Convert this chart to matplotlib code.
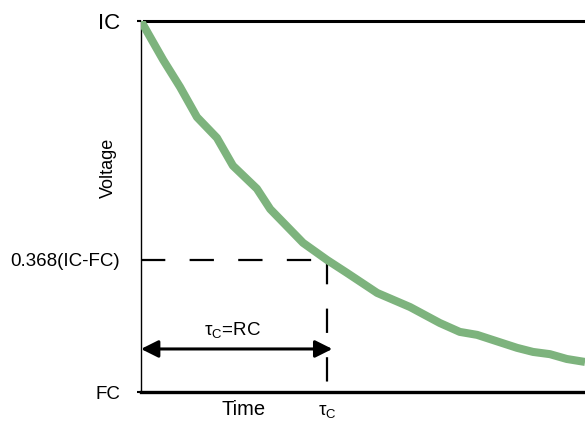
import matplotlib.pyplot as plt
import numpy as np

plt.rcParams['font.family'] = ['Liberation Sans', 'DejaVu Sans']
plt.rcParams['mathtext.fontset'] = 'custom'
plt.rcParams['mathtext.rm'] = 'Liberation Sans'
plt.rcParams['lines.scale_dashes'] = False

# normalised time (0..1) and voltage (FC=0, IC=1)
time = [0.0, 0.05, 0.088, 0.126, 0.171, 0.207, 0.261, 0.291, 0.365, 0.419,
        0.464, 0.532, 0.606, 0.673, 0.718, 0.757, 0.793, 0.847, 0.883,
        0.921, 0.959, 1.0]
voltage = [1.0, 0.895, 0.822, 0.741, 0.685, 0.610, 0.548, 0.493, 0.402, 0.356,
           0.321, 0.267, 0.229, 0.186, 0.162, 0.154, 0.140, 0.119, 0.108,
           0.102, 0.089, 0.081]
tau = 0.419
tau_level = 0.356
arrow_level = 0.116
ytick_pos = [1.0, tau_level, 0.0]
ytick_labels = ['IC', '0.368(IC-FC)', 'FC']
ytick_sizes = [16, 13.5, 13.5]

fig = plt.figure(figsize=(5.85, 4.23), dpi=100)
ax = fig.add_axes([141 / 585, 31 / 423, 444 / 585, 371 / 423])

ax.plot(time, voltage, color='#7db37d', lw=5.8, solid_capstyle='butt', zorder=3)

# top reference line (IC) and dashed tau guides
ax.plot([0.007, 1.0], [1.0, 1.0], color='black', lw=2.2, clip_on=False, zorder=2)
ax.plot([0, tau], [tau_level, tau_level], color='black', lw=1.6, dashes=(17.5, 17.5))
ax.plot([tau, tau], [tau_level, 0], color='black', lw=1.6, dashes=(17.5, 17.5))

ax.annotate('', xy=(0.0, arrow_level), xytext=(tau + 0.012, arrow_level),
            arrowprops=dict(arrowstyle='<|-|>', color='black', lw=2.2,
                            mutation_scale=26, shrinkA=0, shrinkB=0))
ax.text(0.206, 0.167, r'$\mathrm{τ_C}$=RC', ha='center', va='center', fontsize=13.5)

ax.set_xlim(0, 1)
ax.set_ylim(0, 1)
for s in ['top', 'right']:
    ax.spines[s].set_visible(False)
ax.spines['left'].set_linewidth(1.0)
ax.spines['bottom'].set_linewidth(2.4)

ax.set_xticks([])
ax.set_yticks(ytick_pos)
ax.set_yticklabels(ytick_labels)
for lab, fs in zip(ax.get_yticklabels(), ytick_sizes):
    lab.set_fontsize(fs)
ax.tick_params(axis='y', length=3, width=1.5, pad=12)
ax.yaxis.get_major_ticks()[1].tick1line.set_visible(False)

ax.set_ylabel('Voltage', fontsize=13)
ax.yaxis.set_label_coords(-0.055, 0.604)
ax.text(0.232, -0.048, 'Time', ha='center', va='center', fontsize=14.5)
ax.text(tau, -0.052, r'$\mathrm{τ_C}$', ha='center', va='center', fontsize=13.5)

fig.savefig('out.png', dpi=100)
